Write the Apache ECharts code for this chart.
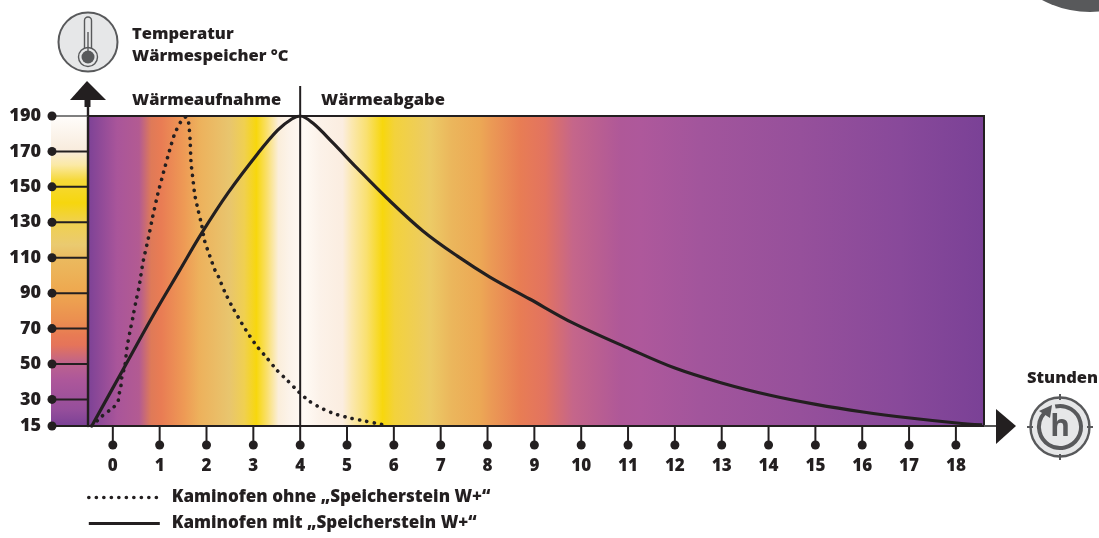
<!DOCTYPE html>
<html><head><meta charset="utf-8">
<style>html,body{margin:0;padding:0;background:#fff}#c{width:1099px;height:538px}</style>
<script src="https://cdn.jsdelivr.net/npm/echarts@6/dist/echarts.min.js"></script>
</head><body><div id="c"></div>
<script>
const xTicks = [0,1,2,3,4,5,6,7,8,9,10,11,12,13,14,15,16,17,18];
const yTicks = [15,30,50,70,90,110,130,150,170,190];
const nameWithout = 'Kaminofen ohne „Speicherstein W+“';
const nameWith = 'Kaminofen mit „Speicherstein W+“';
const withoutStone = [[-0.45,15],[-0.23,20.6],[0.02,25.7],[0.11,28.6],[0.13,32.5],[0.17,37],[0.19,42.1],[0.26,49.4],[0.30,59],[0.36,67.5],[0.43,76.5],[0.49,85],[0.56,93.5],[0.64,107],[0.75,120],[0.85,133],[0.96,146],[1.09,159],[1.22,171.4],[1.32,180],[1.45,186.7],[1.56,189.5],[1.62,186],[1.65,176.5],[1.67,163.5],[1.71,154.5],[1.75,145.4],[1.82,137],[1.90,128],[1.96,119.5],[2.07,111],[2.18,103],[2.26,99],[2.39,90.7],[2.54,82.8],[2.71,74.9],[2.88,67.5],[3.07,60.2],[3.29,53.4],[3.50,46.6],[3.74,40.4],[3.97,34.2],[4.19,29.1],[4.44,25.2],[4.74,21.8],[5.06,19.5],[5.38,17.8],[5.70,16.1],[5.81,15.5]];
const withStone = [[-0.45,15],[0.19,45.5],[0.83,76],[1.43,103],[1.90,124],[2.46,146.6],[3.10,169],[3.52,182],[3.82,188.3],[4,190],[4.27,186],[4.70,174.8],[5.21,160.7],[5.85,143.7],[6.62,125.1],[7.35,111],[8.05,99.1],[8.90,86.7],[9.82,73.2],[11.04,58.5],[12.0,47.7],[13.0,39.3],[14.01,32.5],[15.01,27.2],[16.02,22.9],[17.02,19.5],[18.02,16.7],[18.56,15.6]];
const peakHour = 4;
const xMin = -0.53, xMax = 18.6, yMin = 15, yMax = 190;

const INK = '#231f20', GREY = '#58595b', FONT = '"Open Sans"', WEIGHT = 800;
const plotStops = [[88,'#7b4196'],[118,'#a9559a'],[140,'#b35b92'],[152,'#df7a58'],[162,'#e97c54'],[185,'#ee9a55'],[200,'#edb15c'],[230,'#e8c56e'],[245,'#f0d050'],[257,'#f7d70d'],[268,'#fae070'],[279,'#fbeedb'],[290,'#fcf3ea'],[305,'#fffaf5'],[320,'#fcf2e9'],[343,'#fbede0'],[352,'#fbe8b0'],[367,'#f9e070'],[383,'#f7d70d'],[395,'#f3d23c'],[430,'#eccb66'],[452,'#ebb65c'],[480,'#eca855'],[492,'#eb9955'],[520,'#e87d54'],[545,'#e27360'],[573,'#c5668a'],[620,'#af5898'],[640,'#ae589b'],[700,'#a2559c'],[800,'#96509b'],[900,'#88499a'],[984,'#7a4196']];
const stripStops = [[116,'#fffdfb'],[151,'#f8ebdc'],[165,'#fbe9a5'],[180,'#f6d93a'],[203,'#f6d60e'],[222,'#f0d14e'],[245,'#eaca70'],[260,'#ebb95e'],[290,'#eea950'],[320,'#eb8f50'],[335,'#e87b54'],[345,'#e5745a'],[365,'#bb6190'],[380,'#ad579a'],[410,'#954e9b'],[426,'#7b4196']];
function grad(stops,horizontal){
  const a=stops[0][0], b=stops[stops.length-1][0];
  return new echarts.graphic.LinearGradient(0,0,horizontal?1:0,horizontal?0:1,
    stops.map(s=>({offset:(s[0]-a)/(b-a),color:s[1]})));
}
const txt=(x,y,text,size,extra)=>Object.assign({type:'text',x:x,y:y,z:20,style:{text:text,fill:INK,font:WEIGHT+' '+size+'px '+FONT,textVerticalAlign:'middle',lineHeight:22}},extra||{});

function decor(params,api){
  const kids=[];
  const o=api.coord([xMin,yMin]), top=api.coord([xMin,yMax]), end=api.coord([xMax,yMin]), pk=api.coord([peakHour,yMin]);
  const line=(x1,y1,x2,y2,w,c)=>({type:'line',shape:{x1,y1,x2,y2},style:{stroke:c||INK,lineWidth:w||2}});
  const dot=(cx,cy)=>({type:'circle',shape:{cx,cy,r:4.5},style:{fill:INK}});
  yTicks.forEach(v=>{const p=api.coord([xMin,v]);kids.push(line(p[0]-36,p[1],p[0],p[1],v===yMax?1.6:2,v===yMax?'#555':INK),dot(p[0]-36,p[1]));});
  xTicks.forEach(v=>{const p=api.coord([v,yMin]);kids.push(line(p[0],p[1],p[0],p[1]+19,2),dot(p[0],p[1]+19));});
  kids.push(line(pk[0],top[1]-30,pk[0],pk[1],2));
  kids.push(line(o[0],top[1],o[0],top[1]-10,2.4));
  kids.push(line(o[0]-0.5,top[1]-9,o[0]-0.5,top[1]-17,6));
  kids.push({type:'polygon',shape:{points:[[o[0]-1,top[1]-35],[o[0]-18,top[1]-16],[o[0]+18,top[1]-16]]},style:{fill:INK}});
  kids.push(line(end[0],end[1],end[0]+12,end[1],2,'#555'));
  kids.push({type:'polygon',shape:{points:[[end[0]+12,end[1]-17],[end[0]+32,end[1]],[end[0]+12,end[1]+18]]},style:{fill:INK}});
  return {type:'group',children:kids};
}

const chart=echarts.init(document.getElementById('c'),null,{renderer:'canvas'});
chart.setOption({
  animation:false,
  backgroundColor:'#fff',
  textStyle:{fontFamily:FONT},
  grid:{left:88,right:115,top:116,bottom:112,show:true,backgroundColor:grad(plotStops,true),borderColor:INK,borderWidth:2},
  xAxis:{type:'value',min:xMin,max:xMax,splitLine:{show:false},
    axisLine:{show:true,onZero:false,lineStyle:{color:INK,width:2}},
    axisTick:{show:false},
    axisLabel:{customValues:xTicks,margin:32,color:INK,fontFamily:FONT,fontWeight:WEIGHT,fontSize:17,showMinLabel:true,showMaxLabel:true}},
  yAxis:{type:'value',min:yMin,max:yMax,splitLine:{show:false},
    axisLine:{show:true,onZero:false,lineStyle:{color:INK,width:2.4}},
    axisTick:{show:false},
    axisLabel:{customValues:yTicks,margin:47,padding:[4,0,0,0],color:INK,fontFamily:FONT,fontWeight:WEIGHT,fontSize:18,showMinLabel:true,showMaxLabel:true}},
  legend:{data:[nameWithout,nameWith],orient:'vertical',left:87,top:489,padding:0,itemWidth:71,itemHeight:14,itemGap:9,
    selectedMode:false,itemStyle:{opacity:0},lineStyle:{width:'inherit'},
    textStyle:{color:INK,fontFamily:FONT,fontWeight:WEIGHT,fontSize:17,padding:[0,0,0,7]}},
  series:[
    {type:'custom',name:'decor',silent:true,clip:false,z:6,coordinateSystem:'cartesian2d',data:[[0,15]],renderItem:decor},
    {type:'line',name:nameWithout,data:withoutStone,symbol:'none',smooth:0.15,z:4,lineStyle:{color:INK,width:3.6,cap:'round',type:[0.1,7.4]},itemStyle:{color:INK}},
    {type:'line',name:nameWith,data:withStone,symbol:'none',smooth:0.35,z:5,lineStyle:{color:INK,width:3.2},itemStyle:{color:INK}}
  ],
  graphic:[
    {type:'rect',z:-1,shape:{x:51,y:116,width:37,height:310},style:{fill:grad(stripStops,false)}},
    txt(132,45,'Temperatur\nWärmespeicher °C',16.5),
    txt(132,100,'Wärmeaufnahme',16.5),
    txt(321,100,'Wärmeabgabe',16.5),
    txt(1027,378,'Stunden',16.5),
    {type:'circle',z:20,shape:{cx:1090,cy:-90,r:102},style:{fill:GREY}},
    {type:'circle',z:20,shape:{cx:88,cy:42,r:29.5},style:{fill:'#e6e7e8',stroke:GREY,lineWidth:2}},
    {type:'rect',z:21,shape:{x:84.5,y:17,width:7,height:34,r:3.5},style:{fill:'#e6e7e8',stroke:GREY,lineWidth:1.4}},
    {type:'circle',z:22,shape:{cx:88,cy:57,r:9.5},style:{fill:'#e6e7e8',stroke:GREY,lineWidth:1.4}},
    {type:'circle',z:23,shape:{cx:88,cy:57,r:6.5},style:{fill:GREY}},
    {type:'line',z:23,shape:{x1:88,y1:32,x2:88,y2:52},style:{stroke:GREY,lineWidth:1.4}},
    {type:'circle',z:20,shape:{cx:1060,cy:427,r:29.5},style:{fill:'#e6e7e8',stroke:GREY,lineWidth:2.4}},
    {type:'line',z:20,shape:{x1:1060,y1:394,x2:1060,y2:400},style:{stroke:GREY,lineWidth:2}},
    {type:'line',z:20,shape:{x1:1060,y1:454,x2:1060,y2:460},style:{stroke:GREY,lineWidth:2}},
    {type:'line',z:20,shape:{x1:1027,y1:427,x2:1033,y2:427},style:{stroke:GREY,lineWidth:2}},
    {type:'line',z:20,shape:{x1:1087,y1:427,x2:1093,y2:427},style:{stroke:GREY,lineWidth:2}},
    {type:'arc',z:21,shape:{cx:1060,cy:427,r:21,startAngle:-1.8,endAngle:-2.4,clockwise:true},style:{stroke:GREY,fill:'none',lineWidth:4}},
    {type:'polygon',z:21,shape:{points:[[1039,411],[1052,405],[1050,418]]},style:{fill:GREY}},
    {type:'text',z:21,x:1060,y:427,style:{text:'h',fill:GREY,font:'bold 30px '+FONT,textAlign:'center',textVerticalAlign:'middle'}}
  ]
});
</script></body></html>
